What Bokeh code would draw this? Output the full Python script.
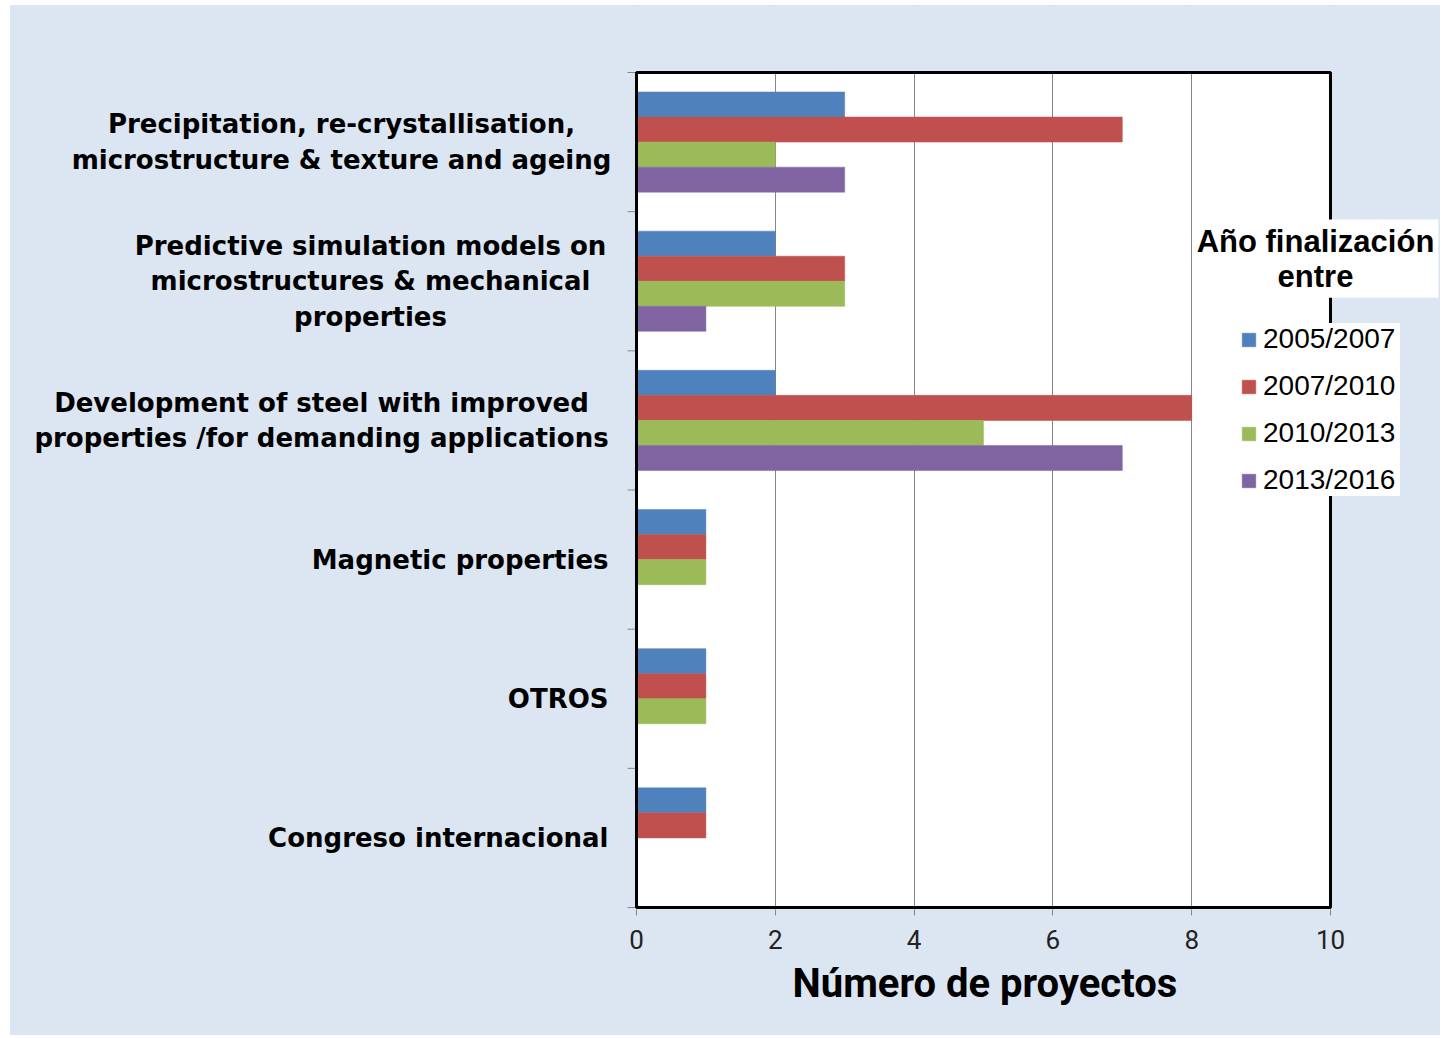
from bokeh.plotting import figure
from bokeh.models import Range1d, FixedTicker, Label, Legend, LegendItem, Title, BoxAnnotation
from bokeh.embed import file_html
from bokeh.resources import INLINE

# ---------------- data ----------------
categories = [
    "Precipitation, re-crystallisation,\nmicrostructure & texture and ageing",
    "Predictive simulation models on\nmicrostructures & mechanical\nproperties",
    "Development of steel with improved\nproperties /for demanding applications",
    "Magnetic properties",
    "OTROS",
    "Congreso internacional",
]
series_names = ["2005/2007", "2007/2010", "2010/2013", "2013/2016"]
s_2005_2007 = [3, 2, 2, 1, 1, 1]
s_2007_2010 = [7, 3, 8, 1, 1, 1]
s_2010_2013 = [2, 3, 5, 1, 1, 0]
s_2013_2016 = [3, 1, 7, 0, 0, 0]
x_ticks = [0, 2, 4, 6, 8, 10]
x_max = 10
x_title = "Número  de proyectos"
legend_title = "Año finalización\nentre"

series_values = [s_2005_2007, s_2007_2010, s_2010_2013, s_2013_2016]
colors = ["#4F81BD", "#C0504D", "#9BBB59", "#8064A2"]

# ---------------- geometry (styling) ----------------
BG = "#DCE6F2"
n = len(categories)
FIG_L, FIG_R, FIG_T = 10, 1440, 5        # figure box on the page
BOX_L, BOX_R, BOX_T, BOX_B = 636, 1330, 72, 907   # plot box on the page
FRAME_B = BOX_B + 2
PX_X = (BOX_R - BOX_L) / x_max
PX_Y = (BOX_B - BOX_T) / n
x0 = (FIG_L - BOX_L) / PX_X
x1 = x_max + (FIG_R - BOX_R) / PX_X
y0 = -(FRAME_B - BOX_B) / PX_Y
y1 = n + (BOX_T - FIG_T) / PX_Y

p = figure(width=FIG_R - FIG_L, height=1030,
           x_range=Range1d(x0, x1), y_range=Range1d(y0, y1),
           output_backend="svg", toolbar_location=None,
           y_axis_location=None,
           min_border_left=0, min_border_right=0,
           min_border_top=0, min_border_bottom=1035 - FRAME_B,
           background_fill_color=BG, border_fill_color=BG,
           outline_line_color=None,
           margin=(FIG_T, 3, 3, FIG_L),
           styles={"background-color": BG})

# white plot area (drawn below the grid)
p.add_layout(BoxAnnotation(left=0, right=x_max, bottom=0, top=n,
                           fill_color="white", fill_alpha=1.0,
                           line_color=None, level="image"))

# cover the grid lines above and below the plot box
p.quad(left=[x0, x0], right=[x1, x1], bottom=[n, y0], top=[y1, 0],
       fill_color=BG, line_color=None)

# category boundary ticks on the left side of the plot box
p.segment(x0=[-9 / PX_X] * (n + 1), x1=[0] * (n + 1),
          y0=list(range(n + 1)), y1=list(range(n + 1)),
          line_color="#868686", line_width=1)

bar_h = 0.18
renderers = []
for i, (name, vals, col) in enumerate(zip(series_names, series_values, colors)):
    ys, rights = [], []
    for k, v in enumerate(vals):
        if v > 0:
            center = n - 0.5 - k
            ys.append(center + (1.5 - i) * bar_h)
            rights.append(v)
    r = p.hbar(y=ys, left=0, right=rights, height=bar_h,
               fill_color=col, line_color=col, line_width=0.5)
    renderers.append((name, r))

# plot box border
p.quad(left=[0], right=[x_max], bottom=[0], top=[n],
       fill_color=None, line_color="black", line_width=3)

# ---------------- x axis ----------------
xa = p.xaxis[0]
xa.ticker = FixedTicker(ticks=x_ticks)
xa.axis_line_color = None
xa.major_tick_in = 0
xa.major_tick_out = 6
xa.major_tick_line_color = "#868686"
xa.minor_tick_line_color = None
xa.major_label_standoff = 14
xa.major_label_text_font = "'Liberation Sans Narrow', 'Roboto'"
xa.major_label_text_font_size = "26px"
xa.major_label_text_color = "#222222"

p.add_layout(Title(text=x_title, align="left", offset=792 - FIG_L,
                   text_font="'Liberation Sans Narrow', 'Roboto'",
                   text_font_style="bold", text_font_size="40px",
                   text_color="black", standoff=13), "below")

p.xgrid.ticker = FixedTicker(ticks=x_ticks)
p.xgrid.grid_line_color = "#868686"
p.xgrid.grid_line_width = 1
p.ygrid.grid_line_color = None

# ---------------- category labels ----------------
label_x = [341, 370, 321, 608, 608, 608]
label_align = ["center", "center", "center", "right", "right", "right"]
for k, txt in enumerate(categories):
    p.add_layout(Label(x=label_x[k] - FIG_L, y=n - 0.5 - k,
                       x_units="screen", y_units="data",
                       text=txt, text_align=label_align[k],
                       text_baseline="middle",
                       text_font="DejaVu Sans", text_font_style="bold",
                       text_font_size="26px", text_color="black",
                       text_line_height=1.19))

# ---------------- legend ----------------
legend = Legend(items=[LegendItem(label=nm, renderers=[r]) for nm, r in renderers],
                location=(1240 - FIG_L, 413),
                background_fill_color="white", background_fill_alpha=1.0,
                border_line_color=None,
                padding=10, margin=0, spacing=15,
                glyph_width=17, glyph_height=17, label_standoff=6,
                label_width=137,
                label_text_font="Liberation Sans", label_text_font_size="28px",
                label_text_color="black")
p.add_layout(legend, "center")

p.add_layout(Label(x=1315 - FIG_L, y=FRAME_B - 219, x_units="screen", y_units="screen",
                   text=legend_title, text_align="center",
                   text_baseline="top",
                   text_font="Liberation Sans", text_font_style="bold",
                   text_font_size="31px", text_color="black",
                   text_line_height=1.01,
                   background_fill_color="white", background_fill_alpha=1.0,
                   padding=4))

open("out.html", "w").write(file_html(p, INLINE))
